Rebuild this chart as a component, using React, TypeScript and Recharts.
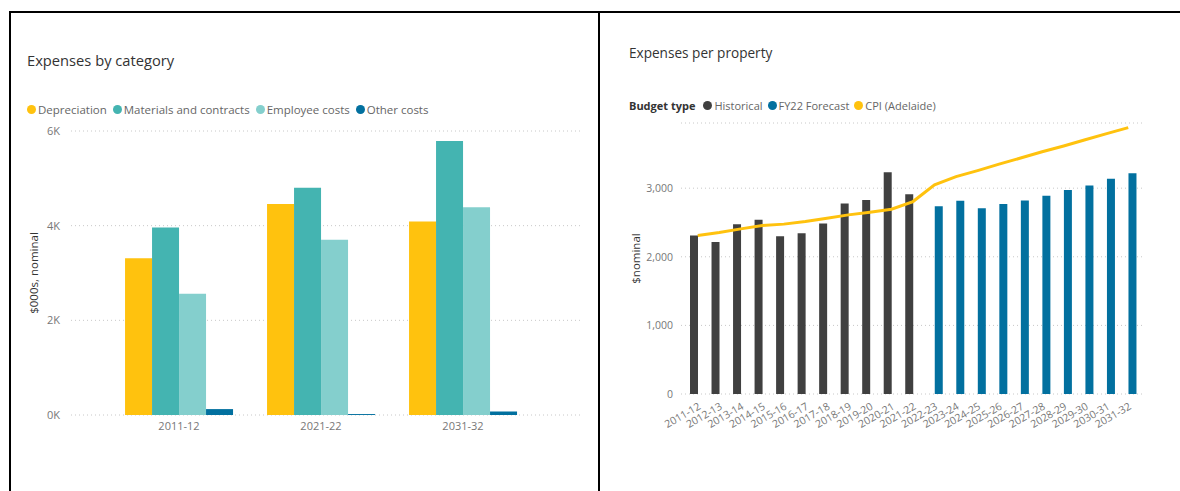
import React from "react";
import { BarChart, Bar, ComposedChart, Line, XAxis, YAxis, CartesianGrid } from "recharts";

const FONT = "'Segoe UI', 'Open Sans', sans-serif";

// Expenses by category, $000s nominal
const catYears = ["2011-12", "2021-22", "2031-32"];
const depreciation = [3310, 4460, 4090];
const materials = [3960, 4800, 5790];
const employee = [2560, 3700, 4390];
const otherCosts = [125, 20, 75];
const catKeys = ["depreciation", "materials", "employee", "other"];
const catNames = ["Depreciation", "Materials and contracts", "Employee costs", "Other costs"];
const catColors = ["#FFC20E", "#44B4B1", "#84CFCD", "#02709F"];
const catTicks = [0, 2000, 4000, 6000];

// Expenses per property, $ nominal
const years = [
  "2011-12", "2012-13", "2013-14", "2014-15", "2015-16", "2016-17", "2017-18",
  "2018-19", "2019-20", "2020-21", "2021-22", "2022-23", "2023-24", "2024-25",
  "2025-26", "2026-27", "2027-28", "2028-29", "2029-30", "2030-31", "2031-32",
];
const historical = [2310, 2216, 2475, 2538, 2300, 2344, 2485, 2776, 2829, 3233, 2912];
const forecast = [2738, 2815, 2709, 2771, 2820, 2888, 2975, 3038, 3136, 3218];
const cpi = [
  2310, 2353, 2407, 2455, 2476, 2514, 2563, 2611, 2650, 2694, 2805,
  3048, 3169, 3256, 3350, 3440, 3530, 3615, 3705, 3795, 3883,
];
const propTicks = [0, 1000, 2000, 3000];
const propNames = ["Historical", "FY22 Forecast", "CPI (Adelaide)"];
const propColors = ["#404040", "#02709F", "#FFC20E"];

const catData = catYears.map((year, i) => ({
  year,
  depreciation: depreciation[i],
  materials: materials[i],
  employee: employee[i],
  other: otherCosts[i],
}));

const propData = years.map((year, i) => ({
  year,
  historical: i < historical.length ? historical[i] : null,
  forecast: i >= historical.length ? forecast[i - historical.length] : null,
  cpi: cpi[i],
}));

const dot = (color: string) => (
  <span
    style={{
      display: "inline-block",
      width: 9,
      height: 9,
      borderRadius: "50%",
      background: color,
      marginRight: 2,
    }}
  />
);

const axisTitle = (text: string, dx: number) => (props: any) => {
  const { x, y, height } = props.viewBox;
  const cx = x + dx;
  const cy = y + height / 2;
  return (
    <text
      x={cx}
      y={cy}
      transform={`rotate(-90 ${cx} ${cy})`}
      textAnchor="middle"
      dominantBaseline="central"
      fill="#333"
      fontSize={11.5}
      fontFamily={FONT}
    >
      {text}
    </text>
  );
};

function CategoryChart() {
  return (
    <div style={{ position: "absolute", left: 0, top: 0, width: 600, height: 491 }}>
      <div
        style={{
          position: "absolute",
          left: 27,
          top: 50,
          fontSize: 14.7,
          lineHeight: "20px",
          color: "#333",
          fontFamily: FONT,
          whiteSpace: "nowrap",
        }}
      >
        Expenses by category
      </div>
      <div
        style={{
          position: "absolute",
          left: 27,
          top: 101,
          height: 16,
          display: "flex",
          alignItems: "center",
          fontSize: 11.5,
          color: "#666",
          fontFamily: FONT,
          whiteSpace: "nowrap",
        }}
      >
        {catNames.map((name, i) => (
          <span key={name} style={{ display: "flex", alignItems: "center", marginRight: 6 }}>
            {dot(catColors[i])}
            {name}
          </span>
        ))}
      </div>
      <BarChart
        width={600}
        height={491}
        data={catData}
        margin={{ top: 131, right: 20, left: 0, bottom: 0 }}
        barCategoryGap="12%"
        barGap={0}
        style={{ fontFamily: FONT }}
      >
        <CartesianGrid vertical={false} stroke="#c8c8c8" strokeDasharray="1 3" />
        <XAxis
          dataKey="year"
          axisLine={false}
          tickLine={false}
          height={76}
          tickMargin={1}
          padding={{ left: 37, right: 46 }}
          tick={{ fill: "#777", fontSize: 11 }}
        />
        <YAxis
          width={71}
          domain={[0, 6000]}
          ticks={catTicks}
          axisLine={false}
          tickLine={false}
          tickMargin={5}
          tickFormatter={(v: number) => `${v / 1000}K`}
          tick={{ fill: "#777", fontSize: 11 }}
          label={axisTitle("$000s, nominal", 33)}
        />
        {catKeys.map((key, i) => (
          <Bar
            key={key}
            dataKey={key}
            name={catNames[i]}
            fill={catColors[i]}
            isAnimationActive={false}
          />
        ))}
      </BarChart>
    </div>
  );
}

function PropertyChart() {
  return (
    <div style={{ position: "absolute", left: 600, top: 0, width: 580, height: 491 }}>
      <div
        style={{
          position: "absolute",
          left: 29,
          top: 43,
          fontSize: 13.6,
          lineHeight: "20px",
          color: "#333",
          fontFamily: FONT,
          whiteSpace: "nowrap",
        }}
      >
        Expenses per property
      </div>
      <div
        style={{
          position: "absolute",
          left: 29,
          top: 97,
          height: 16,
          display: "flex",
          alignItems: "center",
          fontSize: 11,
          color: "#666",
          fontFamily: FONT,
          whiteSpace: "nowrap",
        }}
      >
        <span style={{ fontWeight: 700, color: "#333", marginRight: 8 }}>Budget type</span>
        {propNames.map((name, i) => (
          <span key={name} style={{ display: "flex", alignItems: "center", marginRight: 5 }}>
            {dot(propColors[i])}
            {name}
          </span>
        ))}
      </div>
      <ComposedChart
        width={580}
        height={491}
        data={propData}
        margin={{ top: 123, right: 36, left: 0, bottom: 0 }}
        barSize={8}
        barGap={0}
        style={{ fontFamily: FONT }}
      >
        <CartesianGrid vertical={false} stroke="#c8c8c8" strokeDasharray="1 3" />
        <XAxis
          dataKey="year"
          axisLine={false}
          tickLine={false}
          height={97}
          interval={0}
          angle={-30}
          textAnchor="end"
          padding={{ left: 6, right: 5 }}
          tick={{ fill: "#777", fontSize: 10.5 }}
        />
        <YAxis
          width={81}
          domain={[0, 3950]}
          ticks={propTicks}
          axisLine={false}
          tickLine={false}
          tickFormatter={(v: number) => v.toLocaleString("en-US")}
          tick={{ fill: "#777", fontSize: 10.5 }}
          label={axisTitle("$nominal", 35)}
        />
        <Bar dataKey="historical" name={propNames[0]} fill={propColors[0]} isAnimationActive={false} />
        <Bar dataKey="forecast" name={propNames[1]} fill={propColors[1]} isAnimationActive={false} />
        <Line
          type="linear"
          dataKey="cpi"
          name={propNames[2]}
          stroke={propColors[2]}
          strokeWidth={3}
          dot={false}
          activeDot={false}
          isAnimationActive={false}
        />
      </ComposedChart>
    </div>
  );
}

export default function App() {
  return (
    <div
      style={{
        position: "absolute",
        left: 0,
        top: 0,
        width: 1180,
        height: 491,
        background: "#fff",
        overflow: "hidden",
      }}
    >
      <CategoryChart />
      <PropertyChart />
      {/* frame lines */}
      <div style={{ position: "absolute", left: 9, top: 11, width: 1171, height: 2, background: "#000" }} />
      <div style={{ position: "absolute", left: 9, top: 11, width: 2, height: 480, background: "#000" }} />
      <div style={{ position: "absolute", left: 598, top: 11, width: 2, height: 480, background: "#000" }} />
    </div>
  );
}
